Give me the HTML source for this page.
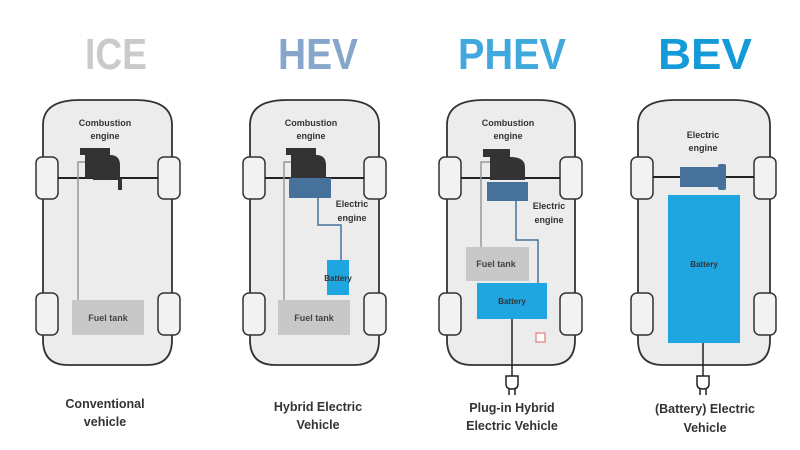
<!DOCTYPE html>
<html><head><meta charset="utf-8"><style>
html,body{margin:0;padding:0;background:#fff;}
svg{display:block;}
text{font-family:"Liberation Sans",sans-serif;font-weight:bold;}
</style></head><body>
<svg width="800" height="450" viewBox="0 0 800 450" xmlns="http://www.w3.org/2000/svg">
<rect width="800" height="450" fill="#fff"/>
<!-- titles -->
<g font-size="44" text-anchor="middle">
<text x="116" y="69" fill="#cacaca" textLength="62" lengthAdjust="spacingAndGlyphs">ICE</text>
<text x="318" y="69" fill="#86a6cb" textLength="80" lengthAdjust="spacingAndGlyphs">HEV</text>
<text x="512" y="69" fill="#3fa9de" textLength="108" lengthAdjust="spacingAndGlyphs">PHEV</text>
<text x="705" y="69" fill="#139ad8" textLength="94" lengthAdjust="spacingAndGlyphs">BEV</text>
</g>

<defs>
<g id="wheels">
<rect x="-8" y="0" width="22" height="42" rx="6" fill="#f0f0f0" stroke="#333" stroke-width="1.5"/>
</g>
</defs>

<!-- ICE -->
<g>
<path d="M43,125 Q43,100 80,100 L135,100 Q172,100 172,125 L172,340 Q172,365 147,365 L68,365 Q43,365 43,340 Z" fill="#ececec" stroke="#333" stroke-width="1.8"/>
<rect x="36" y="157" width="22" height="42" rx="6" fill="#f2f2f2" stroke="#333" stroke-width="1.5"/>
<rect x="158" y="157" width="22" height="42" rx="6" fill="#f2f2f2" stroke="#333" stroke-width="1.5"/>
<rect x="36" y="293" width="22" height="42" rx="6" fill="#f2f2f2" stroke="#333" stroke-width="1.5"/>
<rect x="158" y="293" width="22" height="42" rx="6" fill="#f2f2f2" stroke="#333" stroke-width="1.5"/>
<line x1="58" y1="178" x2="158" y2="178" stroke="#222" stroke-width="2"/>
<polyline points="78,300 78,162 88,162" fill="none" stroke="#999" stroke-width="1.5"/>
<path d="M80,148 L110,148 L110,155 Q120,155 120,165 L120,178 L122,178 L122,190 L118,190 L118,180 L93,180 L93,178 L85,178 L85,155 L80,155 Z" fill="#333"/>
<rect x="72" y="300" width="72" height="35" fill="#c8c8c8"/>
<text x="108" y="321" font-size="9" fill="#444" text-anchor="middle">Fuel tank</text>
<text x="105" y="126" font-size="9" fill="#333" text-anchor="middle">Combustion</text>
<text x="105" y="139" font-size="9" fill="#333" text-anchor="middle">engine</text>
<text x="105" y="408" font-size="12.5" fill="#333" text-anchor="middle">Conventional</text>
<text x="105" y="426" font-size="12.5" fill="#333" text-anchor="middle">vehicle</text>
</g>

<!-- HEV -->
<g>
<path d="M250,125 Q250,100 287,100 L342,100 Q379,100 379,125 L379,340 Q379,365 354,365 L275,365 Q250,365 250,340 Z" fill="#ececec" stroke="#333" stroke-width="1.8"/>
<rect x="243" y="157" width="22" height="42" rx="6" fill="#f2f2f2" stroke="#333" stroke-width="1.5"/>
<rect x="364" y="157" width="22" height="42" rx="6" fill="#f2f2f2" stroke="#333" stroke-width="1.5"/>
<rect x="243" y="293" width="22" height="42" rx="6" fill="#f2f2f2" stroke="#333" stroke-width="1.5"/>
<rect x="364" y="293" width="22" height="42" rx="6" fill="#f2f2f2" stroke="#333" stroke-width="1.5"/>
<line x1="265" y1="178" x2="364" y2="178" stroke="#222" stroke-width="2"/>
<polyline points="284,300 284,162 294,162" fill="none" stroke="#999" stroke-width="1.5"/>
<path d="M286,148 L316,148 L316,155 Q326,155 326,165 L326,178 L291,178 L291,155 L286,155 Z" fill="#333"/>
<rect x="289" y="178" width="42" height="20" fill="#46719b"/>
<polyline points="318,198 318,225 341,225 341,262" fill="none" stroke="#46719b" stroke-width="1.5"/>
<rect x="327" y="260" width="22" height="35" fill="#1fa6e0"/>
<text x="338" y="281" font-size="8" fill="#333" text-anchor="middle">Battery</text>
<rect x="278" y="300" width="72" height="35" fill="#c8c8c8"/>
<text x="314" y="321" font-size="9" fill="#444" text-anchor="middle">Fuel tank</text>
<text x="311" y="126" font-size="9" fill="#333" text-anchor="middle">Combustion</text>
<text x="311" y="139" font-size="9" fill="#333" text-anchor="middle">engine</text>
<text x="352" y="207" font-size="9" fill="#333" text-anchor="middle">Electric</text>
<text x="352" y="221" font-size="9" fill="#333" text-anchor="middle">engine</text>
<text x="318" y="411" font-size="12.5" fill="#333" text-anchor="middle">Hybrid Electric</text>
<text x="318" y="429" font-size="12.5" fill="#333" text-anchor="middle">Vehicle</text>
</g>

<!-- PHEV -->
<g>
<path d="M447,125 Q447,100 484,100 L538,100 Q575,100 575,125 L575,340 Q575,365 550,365 L472,365 Q447,365 447,340 Z" fill="#ececec" stroke="#333" stroke-width="1.8"/>
<rect x="439" y="157" width="22" height="42" rx="6" fill="#f2f2f2" stroke="#333" stroke-width="1.5"/>
<rect x="560" y="157" width="22" height="42" rx="6" fill="#f2f2f2" stroke="#333" stroke-width="1.5"/>
<rect x="439" y="293" width="22" height="42" rx="6" fill="#f2f2f2" stroke="#333" stroke-width="1.5"/>
<rect x="560" y="293" width="22" height="42" rx="6" fill="#f2f2f2" stroke="#333" stroke-width="1.5"/>
<line x1="461" y1="178" x2="560" y2="178" stroke="#222" stroke-width="2"/>
<polyline points="481,247 481,162 491,162" fill="none" stroke="#999" stroke-width="1.5"/>
<path d="M483,149 L510,149 L510,157 Q525,157 525,167 L525,180 L490,180 L490,157 L483,157 Z" fill="#333"/>
<rect x="487" y="182" width="41" height="19" fill="#46719b"/>
<polyline points="516,201 516,240 538,240 538,283" fill="none" stroke="#46719b" stroke-width="1.5"/>
<rect x="466" y="247" width="63" height="34" fill="#c8c8c8"/>
<text x="496" y="267" font-size="9" fill="#444" text-anchor="middle">Fuel tank</text>
<rect x="477" y="283" width="70" height="36" fill="#1fa6e0"/>
<text x="512" y="304" font-size="8" fill="#333" text-anchor="middle">Battery</text>
<rect x="536" y="333" width="9" height="9" fill="#fff" stroke="#e27a7a" stroke-width="1.2"/>
<line x1="512" y1="319" x2="512" y2="376" stroke="#222" stroke-width="1.5"/>
<path d="M506,376 L518,376 L518,384 Q518,389 512,389 Q506,389 506,384 Z" fill="#fff" stroke="#222" stroke-width="1.5"/>
<line x1="509" y1="389" x2="509" y2="395" stroke="#222" stroke-width="1.5"/>
<line x1="515" y1="389" x2="515" y2="395" stroke="#222" stroke-width="1.5"/>
<text x="508" y="126" font-size="9" fill="#333" text-anchor="middle">Combustion</text>
<text x="508" y="139" font-size="9" fill="#333" text-anchor="middle">engine</text>
<text x="549" y="209" font-size="9" fill="#333" text-anchor="middle">Electric</text>
<text x="549" y="223" font-size="9" fill="#333" text-anchor="middle">engine</text>
<text x="512" y="412" font-size="12.5" fill="#333" text-anchor="middle">Plug-in Hybrid</text>
<text x="512" y="430" font-size="12.5" fill="#333" text-anchor="middle">Electric Vehicle</text>
</g>

<!-- BEV -->
<g>
<path d="M638,125 Q638,100 675,100 L733,100 Q770,100 770,125 L770,340 Q770,365 745,365 L663,365 Q638,365 638,340 Z" fill="#ececec" stroke="#333" stroke-width="1.8"/>
<rect x="631" y="157" width="22" height="42" rx="6" fill="#f2f2f2" stroke="#333" stroke-width="1.5"/>
<rect x="754" y="157" width="22" height="42" rx="6" fill="#f2f2f2" stroke="#333" stroke-width="1.5"/>
<rect x="631" y="293" width="22" height="42" rx="6" fill="#f2f2f2" stroke="#333" stroke-width="1.5"/>
<rect x="754" y="293" width="22" height="42" rx="6" fill="#f2f2f2" stroke="#333" stroke-width="1.5"/>
<line x1="653" y1="177" x2="754" y2="177" stroke="#222" stroke-width="2"/>
<rect x="680" y="167" width="40" height="20" fill="#46719b"/>
<rect x="718" y="164" width="8" height="26" rx="2" fill="#46719b"/>
<rect x="668" y="195" width="72" height="148" fill="#1fa6e0"/>
<text x="704" y="267" font-size="8" fill="#333" text-anchor="middle">Battery</text>
<line x1="703" y1="343" x2="703" y2="376" stroke="#222" stroke-width="1.5"/>
<path d="M697,376 L709,376 L709,384 Q709,389 703,389 Q697,389 697,384 Z" fill="#fff" stroke="#222" stroke-width="1.5"/>
<line x1="700" y1="389" x2="700" y2="395" stroke="#222" stroke-width="1.5"/>
<line x1="706" y1="389" x2="706" y2="395" stroke="#222" stroke-width="1.5"/>
<text x="703" y="138" font-size="9" fill="#333" text-anchor="middle">Electric</text>
<text x="703" y="151" font-size="9" fill="#333" text-anchor="middle">engine</text>
<text x="705" y="413" font-size="12.5" fill="#333" text-anchor="middle">(Battery) Electric</text>
<text x="705" y="432" font-size="12.5" fill="#333" text-anchor="middle">Vehicle</text>
</g>
</svg>
</body></html>
